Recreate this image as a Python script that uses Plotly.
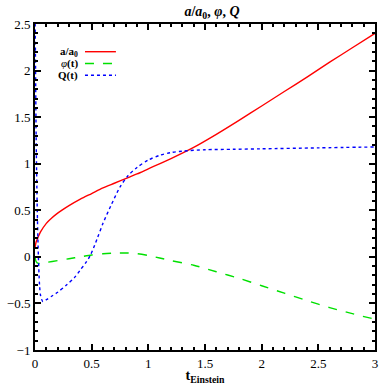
import plotly.graph_objects as go

# a/a0 (solid red)
a_t = [0, 0.01, 0.02, 0.05, 0.1, 0.15, 0.2, 0.3, 0.4, 0.5, 0.6, 0.7, 0.8, 0.9,
       1.0, 1.2, 1.4, 1.6, 1.8, 2.0, 2.2, 2.4, 2.6, 2.8, 3.0]
a_vals = [0.10, 0.16, 0.19, 0.27, 0.36, 0.42, 0.47, 0.55, 0.62, 0.68, 0.74, 0.79, 0.84, 0.89,
          0.945, 1.055, 1.175, 1.315, 1.465, 1.62, 1.775, 1.93, 2.09, 2.245, 2.40]

# phi(t) (dashed green)
phi_t = [0, 0.01, 0.03, 0.1, 0.2, 0.3, 0.4, 0.5, 0.6, 0.7, 0.8, 0.9, 1.0, 1.1, 1.2,
         1.4, 1.6, 1.8, 2.0, 2.2, 2.4, 2.6, 2.8, 3.0]
phi_vals = [0.0, -0.05, -0.07, -0.06, -0.04, -0.02, 0.0, 0.02, 0.033, 0.04, 0.042, 0.035, 0.015, -0.012, -0.04,
            -0.09, -0.16, -0.23, -0.31, -0.39, -0.47, -0.545, -0.61, -0.67]

# Q(t) (dotted blue)
q_t = [0, 0.005, 0.01, 0.02, 0.03, 0.04, 0.05, 0.07, 0.1, 0.15, 0.2, 0.28, 0.35, 0.4, 0.45,
       0.49, 0.55, 0.6, 0.67, 0.75, 0.82, 0.9, 1.0, 1.1, 1.2, 1.3, 1.5, 1.75, 2.0, 2.5, 3.0]
q_vals = [2.7, 2.0, 1.3, 0.5, 0.0, -0.3, -0.42, -0.48, -0.46, -0.42, -0.38, -0.30, -0.22, -0.14, -0.06,
          0.02, 0.2, 0.36, 0.55, 0.75, 0.87, 0.96, 1.04, 1.09, 1.12, 1.135, 1.15, 1.155, 1.16, 1.17, 1.18]

x_ticks = [0, 0.5, 1, 1.5, 2, 2.5, 3]
y_ticks = [-1, -0.5, 0, 0.5, 1, 1.5, 2, 2.5]

legend_labels = ['<b>a/a<sub>0</sub></b>', '<i>φ</i><b>(t)</b>', '<b>Q(t)</b>']
colors = ['#ff0000', '#00e000', '#0000ff']
dashes = ['solid', 'dash', 'dot']

serif = 'Liberation Serif'

fig = go.Figure()
for xs, ys, c, d in [(a_t, a_vals, colors[0], dashes[0]),
                     (phi_t, phi_vals, colors[1], dashes[1]),
                     (q_t, q_vals, colors[2], dashes[2])]:
    fig.add_trace(go.Scatter(
        x=xs, y=ys, mode='lines',
        line=dict(color=c, width=1.4, dash=d, shape='spline', smoothing=0.8),
        showlegend=False
    ))

# hand-made legend: label on the left, line sample on the right
for i, (lab, c, d) in enumerate(zip(legend_labels, colors, dashes)):
    yy = 0.915 - i * 0.036
    fig.add_annotation(text=lab, xref='paper', yref='paper', x=0.132, y=yy,
                       xanchor='right', yanchor='middle', showarrow=False,
                       font=dict(family=serif, size=11, color='black'))
    fig.add_shape(type='line', xref='paper', yref='paper',
                  x0=0.147, x1=0.238, y0=yy, y1=yy,
                  line=dict(color=c, width=1.4, dash=d))

axis_common = dict(
    showline=True, linewidth=2, linecolor='black', mirror='ticks',
    ticks='inside', ticklen=6, tickwidth=2, tickcolor='black',
    showgrid=False, zeroline=False, automargin=False,
    tickfont=dict(family=serif, size=13, color='black'),
)

fig.update_layout(
    width=382, height=385,
    margin=dict(l=35, r=7, t=24, b=35),
    paper_bgcolor='white', plot_bgcolor='white',
    title=dict(text='<b><i>a</i>/<i>a</i><sub>0</sub>, <i>φ</i>, <i>Q</i></b>',
               x=0.555, xanchor='center', y=0.985, yanchor='top',
               font=dict(family=serif, size=14, color='black')),
    xaxis=dict(range=[0, 3], tickvals=x_ticks, ticktext=[str(v) for v in x_ticks],
               minor=dict(ticks='inside', dtick=0.1, ticklen=3, tickwidth=2, tickcolor='black'),
               title=dict(text='<b>t<sub>Einstein</sub></b>', standoff=0,
                          font=dict(family=serif, size=14, color='black')),
               **axis_common),
    yaxis=dict(range=[-1, 2.5], tickvals=y_ticks,
               minor=dict(ticks='inside', dtick=0.1, ticklen=3, tickwidth=2, tickcolor='black'),
               **axis_common),
)

# drop the default body margin so the figure sits at the page's top-left corner
fig.write_html("out.html", config={'displayModeBar': False},
               post_script="document.body.style.margin='0';")
